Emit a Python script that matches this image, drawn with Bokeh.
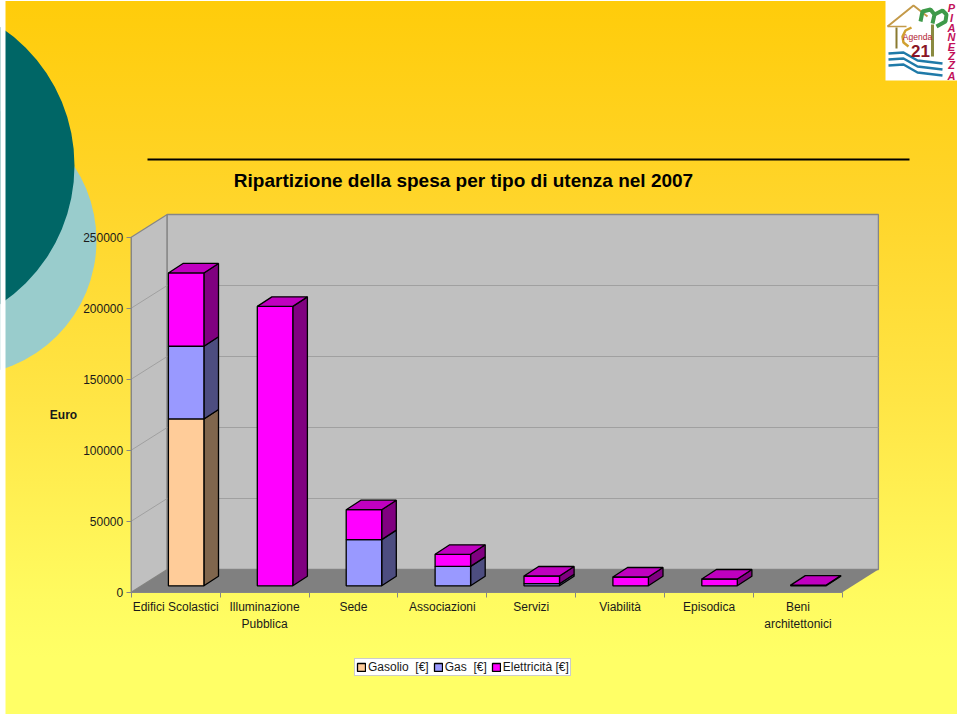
from bokeh.plotting import figure
from bokeh.embed import file_html
from bokeh.resources import INLINE
from bokeh.models import Range1d, FixedTicker, Legend, LegendItem
from bokeh.core.properties import value

categories = ["Edifici Scolastici", "Illuminazione\nPubblica", "Sede", "Associazioni",
              "Servizi", "Viabilità", "Episodica", "Beni\narchitettonici"]
gasolio = [117500, 0, 0, 0, 0, 0, 0, 0]
gas = [51200, 0, 32500, 13700, 1500, 0, 0, 0]
elettricita = [51600, 196800, 21100, 8500, 5400, 6200, 4800, 500]
y_ticks = [0, 50000, 100000, 150000, 200000, 250000]
series_names = ["Gasolio  [€]", "Gas  [€]", "Elettricità [€]"]
title_text = "Ripartizione della spesa per tipo di utenza nel 2007"

PX_X0, PX_SLOT = 130.7, 88.9
PX_Y0, PX_PER_EURO = 591.7, 355.0 / 250000
W, H = 960, 716

def X(px): return (px - PX_X0) / PX_SLOT
def Y(px): return (PX_Y0 - px) / PX_PER_EURO

p = figure(width=W, height=H, output_backend="svg", toolbar_location=None,
           x_range=Range1d(X(0), X(W)), y_range=Range1d(Y(H), Y(0)),
           min_border=0, min_border_left=0, min_border_right=0, min_border_top=0, min_border_bottom=0,
           background_fill_color=None, border_fill_color=None, outline_line_color=None)
p.styles = {
    "background": "linear-gradient(to bottom,#FFCC0A 0%,#FFD52A 28%,#FFE545 56%,#FFFB60 84%,#FFFF66 92%) no-repeat",
    "background-size": "952px 713px", "background-position": "5px 1px",
}
p.xgrid.visible = False
p.ygrid.visible = False

# decoration
p.circle(x=[X(-39)], y=[Y(240)], radius=135 / PX_SLOT, fill_color="#99CCCC", line_color=None)
p.circle(x=[X(-92.6)], y=[Y(165)], radius=166.6 / PX_SLOT, fill_color="#006666", line_color=None)
p.quad(left=[X(-5)], right=[X(5)], top=[Y(-5)], bottom=[Y(720)], fill_color="white", line_color=None)
p.line([X(147), X(909)], [Y(159), Y(159)], line_color="black", line_width=2)

# walls
DX_WALL, DY_WALL = 36 / PX_SLOT, 22.7 / PX_PER_EURO
n = len(categories)
top = y_ticks[-1]
WALL = "#C0C0C0"; EDGE = "#868686"; GRID = "#A0A0A0"
p.patch([0, DX_WALL, DX_WALL, 0], [0, DY_WALL, top + DY_WALL, top], fill_color=WALL, line_color=EDGE, line_width=1.3)
p.patch([DX_WALL, n + DX_WALL, n + DX_WALL, DX_WALL], [DY_WALL, DY_WALL, top + DY_WALL, top + DY_WALL],
        fill_color=WALL, line_color=EDGE, line_width=1.3)
p.patch([0, n, n + DX_WALL, DX_WALL], [0, 0, DY_WALL, DY_WALL], fill_color="#808080", line_color=None)
p.multi_line([[0, DX_WALL, n + DX_WALL] for v in y_ticks[1:-1]],
             [[v, v + DY_WALL, v + DY_WALL] for v in y_ticks[1:-1]], line_color=GRID, line_width=1)

# bars
BAR_OFF, BAR_W = 37.2 / PX_SLOT, 35.5 / PX_SLOT
BASE = 6.4 / PX_PER_EURO
DX_BAR, DY_BAR = 14.6 / PX_SLOT, 9.5 / PX_PER_EURO
front = ["#FFCC99", "#9999FF", "#FF00FF"]
side = ["#80664D", "#4D4D80", "#800080"]
top_c = ["#CC9F75", "#7A7ACC", "#C000C0"]
series = [gasolio, gas, elettricita]
legend_r = [None, None, None]
for i in range(n):
    b = BASE
    last = None
    for s in range(3):
        v = series[s][i]
        if v <= 0:
            continue
        l = i + BAR_OFF; r = l + BAR_W
        p.patch([r, r + DX_BAR, r + DX_BAR, r], [b, b + DY_BAR, b + v + DY_BAR, b + v],
                fill_color=side[s], line_color="black", line_width=1.3)
        q = p.quad(left=[l], right=[r], bottom=[b], top=[b + v], fill_color=front[s],
                   line_color="black", line_width=1.3)
        if legend_r[s] is None:
            legend_r[s] = q
        b += v
        last = s
    l = i + BAR_OFF; r = l + BAR_W
    p.patch([l, r, r + DX_BAR, l + DX_BAR], [b, b, b + DY_BAR, b + DY_BAR],
            fill_color=top_c[last], line_color="black", line_width=1.3)

# axes
yax = p.yaxis[0]
yax.fixed_location = 0
yax.ticker = FixedTicker(ticks=y_ticks)
yax.bounds = (0, top)
yax.major_label_overrides = {v: str(v) for v in y_ticks}
xax = p.xaxis[0]
xax.fixed_location = 0
centres = [i + 0.5 for i in range(n)]
xax.ticker = FixedTicker(ticks=centres, minor_ticks=list(range(n + 1)))
xax.bounds = (0, n)
xax.major_label_overrides = {c: t for c, t in zip(centres, categories)}
for ax in (xax, yax):
    ax.axis_line_color = EDGE
    ax.major_label_text_font = "Liberation Sans"
    ax.major_label_text_font_size = "12px"
    ax.major_label_text_color = "#1A1A1A"
    ax.minor_tick_line_color = None
    ax.major_tick_in = 0
xax.major_tick_line_color = None
xax.minor_tick_line_color = EDGE
xax.minor_tick_in = 0
xax.minor_tick_out = 5
xax.major_label_standoff = 2
yax.major_tick_line_color = EDGE
yax.major_tick_out = 5
yax.major_label_standoff = 3
xax.major_label_orientation = "horizontal"

# texts
p.text(x=[X(463)], y=[Y(180)], text=[title_text], text_font=value("Liberation Sans"), text_font_style="bold",
       text_font_size="19px", text_align="center", text_baseline="middle", text_color="black")
p.text(x=[X(63)], y=[Y(414.5)], text=["Euro"], text_font=value("Liberation Sans"), text_font_style="bold",
       text_font_size="12px", text_align="center", text_baseline="middle", text_color="#1A1A1A")

# legend
lg = Legend(items=[LegendItem(label=value(nm), renderers=[r]) for nm, r in zip(series_names, legend_r)],
            orientation="horizontal", location=(354, 40), glyph_width=10, glyph_height=10,
            label_text_font="Liberation Sans", label_text_font_size="12px", label_text_color="#1A1A1A",
            label_standoff=2, spacing=4, padding=1, margin=0, label_height=12,
            background_fill_color="white", background_fill_alpha=1,
            border_line_color="#999999", border_line_width=1)
p.add_layout(lg, "center")

# logo
p.quad(left=[X(885)], right=[X(957)], top=[Y(0)], bottom=[Y(80)], fill_color="white", line_color=None)
TAN = "#C49A4A"; GREEN = "#3E9A4A"; BLUE = "#1F7AA8"
p.line([X(887), X(913), X(927)], [Y(26), Y(5), Y(16)], line_color=TAN, line_width=2)
p.line([X(887), X(906)], [Y(26), Y(26)], line_color=TAN, line_width=1.5)
p.line([X(896), X(896)], [Y(27), Y(48)], line_color="#8A7A30", line_width=2)
p.line([X(911), X(905), X(902), X(903), X(908)], [Y(27), Y(30), Y(36), Y(42), Y(46)], line_color="#D0A030", line_width=2.5)
p.line([X(932), X(932)], [Y(24), Y(56)], line_color="#8A8A40", line_width=3)
p.line([X(920), X(922), X(930), X(934), X(932)], [Y(21), Y(11), Y(9), Y(14), Y(23)], line_color=GREEN, line_width=4)
p.line([X(934), X(942), X(946), X(945), X(936)], [Y(14), Y(10), Y(14), Y(21), Y(26)], line_color=GREEN, line_width=4)
for dy in (0, 6, 12):
    p.line([X(888), X(903), X(917), X(942)], [Y(53 + dy), Y(52 + dy), Y(60 + dy), Y(63 + dy)], line_color=BLUE, line_width=2.5)
p.text(x=[X(917)], y=[Y(36)], text=["Agenda"], text_font=value("Liberation Sans"),
       text_font_size="8.5px", text_align="center", text_baseline="middle", text_color="#B02030")
p.text(x=[X(920)], y=[Y(50)], text=["21"], text_font=value("Liberation Sans"),
       text_font_style="bold", text_font_size="17px", text_align="center", text_baseline="middle", text_color="#8A1525")
letters = list("PIANEZZA")
letter_y = [7, 17, 27, 36, 46, 55, 64, 75]
p.text(x=[X(951)] * 8, y=[Y(v) for v in letter_y], text=letters,
       text_font=value("Liberation Sans"), text_font_style="bold italic", text_font_size="11px",
       text_align="center", text_baseline="middle", text_color="#C2105A")

open("out.html", "w").write(file_html(p, INLINE))
